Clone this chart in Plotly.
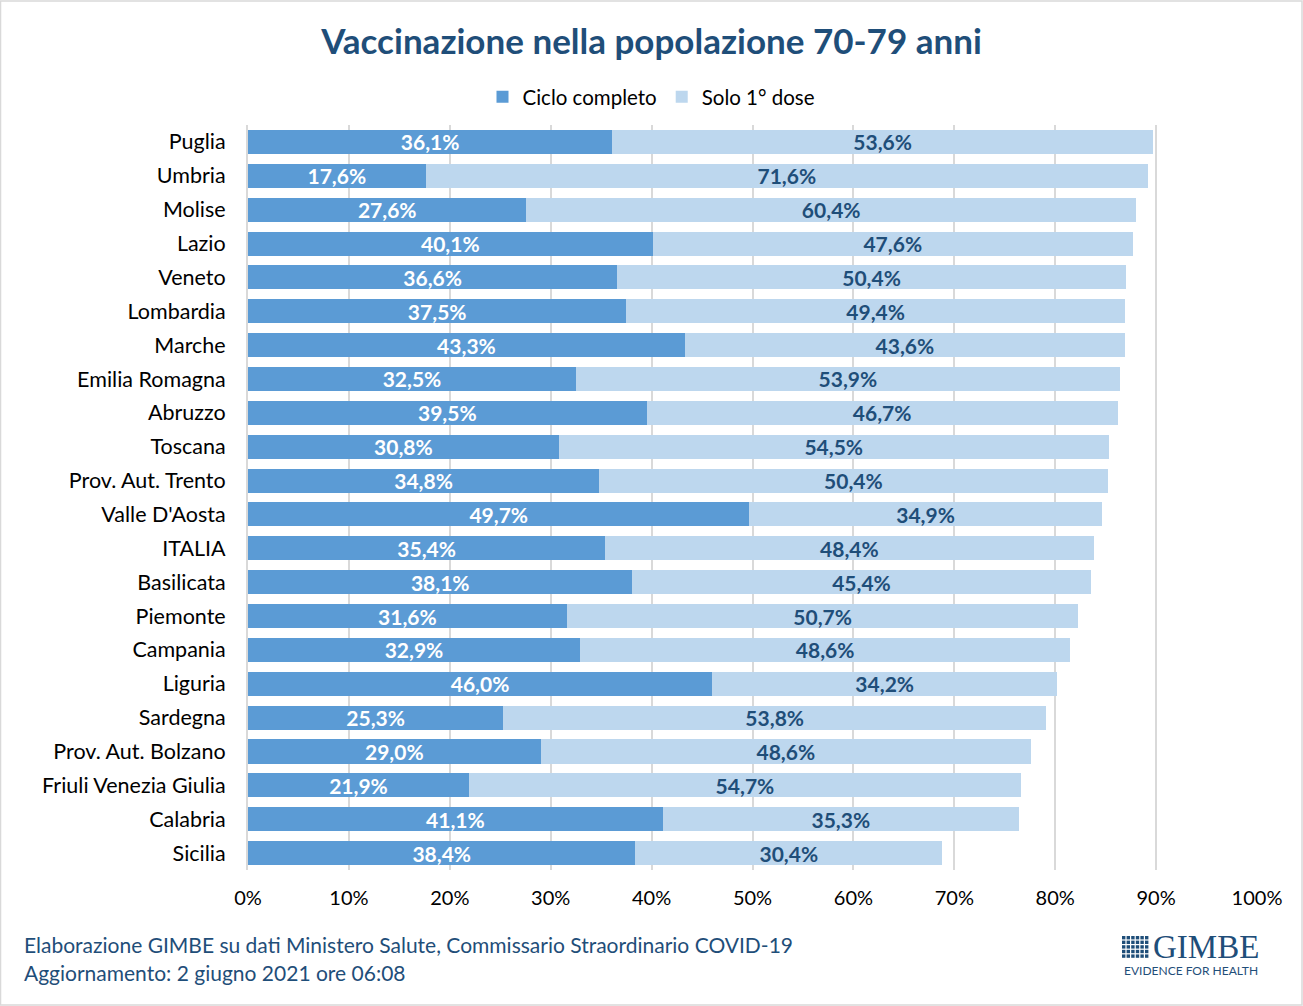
import plotly.graph_objects as go

regions = ["Puglia", "Umbria", "Molise", "Lazio", "Veneto", "Lombardia", "Marche",
           "Emilia Romagna", "Abruzzo", "Toscana", "Prov. Aut. Trento", "Valle D'Aosta",
           "ITALIA", "Basilicata", "Piemonte", "Campania", "Liguria", "Sardegna",
           "Prov. Aut. Bolzano", "Friuli Venezia Giulia", "Calabria", "Sicilia"]
ciclo_completo = [36.1, 17.6, 27.6, 40.1, 36.6, 37.5, 43.3, 32.5, 39.5, 30.8, 34.8, 49.7,
                  35.4, 38.1, 31.6, 32.9, 46.0, 25.3, 29.0, 21.9, 41.1, 38.4]
solo_prima_dose = [53.6, 71.6, 60.4, 47.6, 50.4, 49.4, 43.6, 53.9, 46.7, 54.5, 50.4, 34.9,
                   48.4, 45.4, 50.7, 48.6, 34.2, 53.8, 48.6, 54.7, 35.3, 30.4]
x_ticks = [0, 10, 20, 30, 40, 50, 60, 70, 80, 90, 100]
x_tick_labels = [f"{t}%" for t in x_ticks]

FONT = "Lato"
DARK = "#1F4E79"


def fmt(v):
    return f"{v:.1f}".replace(".", ",") + "%"


fig = go.Figure()
fig.add_trace(go.Bar(
    y=regions, x=ciclo_completo, orientation="h", name="Ciclo completo",
    marker=dict(color="#5B9BD5", line=dict(width=0)),
    text=[fmt(v) for v in ciclo_completo], textposition="inside", insidetextanchor="middle",
    constraintext="none", cliponaxis=False,
    textfont=dict(color="white", size=21, family=FONT, weight="bold"),
    hoverinfo="skip",
))
fig.add_trace(go.Bar(
    y=regions, x=solo_prima_dose, orientation="h", name="Solo 1° dose",
    marker=dict(color="#BDD7EE", line=dict(width=0)),
    text=[fmt(v) for v in solo_prima_dose], textposition="inside", insidetextanchor="middle",
    constraintext="none", cliponaxis=False,
    textfont=dict(color=DARK, size=21, family=FONT, weight="bold"),
    hoverinfo="skip",
))

fig.update_layout(
    width=1303, height=1006,
    barmode="stack", bargap=0.29,
    plot_bgcolor="white", paper_bgcolor="white",
    margin=dict(l=248, r=46, t=125, b=136, autoexpand=False),
    font=dict(family=FONT, color="#000000", size=19),
    title=dict(text="<b>Vaccinazione nella popolazione 70-79 anni</b>",
               x=0.5, xref="container", xanchor="center",
               y=1 - 42 / 1006, yref="container", yanchor="middle",
               font=dict(size=35, color=DARK, family=FONT)),
    legend=dict(orientation="h", x=0.5, xref="container", xanchor="center",
                y=1 - 97 / 1006, yref="container", yanchor="middle",
                font=dict(size=20.5, color="#000000", family=FONT),
                itemwidth=30, traceorder="normal", bgcolor="rgba(0,0,0,0)"),
    xaxis=dict(range=[0, 100], tickvals=x_ticks, ticktext=x_tick_labels,
               showgrid=True, gridcolor="#D9D9D9", gridwidth=2,
               zeroline=False, showline=False, ticks="",
               ticklabelstandoff=14, tickfont=dict(size=20, color="#000000"),
               fixedrange=True),
    yaxis=dict(autorange="reversed", showgrid=False, zeroline=False,
               showline=True, linecolor="#D9D9D9", linewidth=2, ticks="",
               ticklabelstandoff=16, tickfont=dict(size=21.5, color="#000000"),
               fixedrange=True),
)

# footer
fig.add_annotation(text="Elaborazione GIMBE su dati Ministero Salute, Commissario Straordinario COVID-19",
                   xref="paper", yref="paper", x=(22 - 248) / 1009, y=-(944 - 870) / 745,
                   xanchor="left", yanchor="middle", showarrow=False,
                   font=dict(size=21, color=DARK, family=FONT))
fig.add_annotation(text="Aggiornamento: 2 giugno 2021 ore 06:08",
                   xref="paper", yref="paper", x=(22 - 248) / 1009, y=-(972 - 870) / 745,
                   xanchor="left", yanchor="middle", showarrow=False,
                   font=dict(size=21, color=DARK, family=FONT))

# logo
fig.add_annotation(text="GIMBE", xref="paper", yref="paper",
                   x=(1261 - 248) / 1009, y=-(947 - 870) / 745,
                   xanchor="right", yanchor="middle", showarrow=False,
                   font=dict(size=33, color=DARK, family="Liberation Serif"))
fig.add_annotation(text="EVIDENCE FOR HEALTH", xref="paper", yref="paper",
                   x=(1260 - 248) / 1009, y=-(970 - 870) / 745,
                   xanchor="right", yanchor="middle", showarrow=False,
                   font=dict(size=12, color=DARK, family=FONT))
# grid icon of the logo
x0, y0, cell = 1122, 936, 4.6
for i in range(6):
    for j in range(5):
        fig.add_shape(type="rect", xref="paper", yref="paper",
                      x0=(x0 + i * cell - 248) / 1009, x1=(x0 + i * cell + cell - 1.2 - 248) / 1009,
                      y0=-(y0 + j * cell + cell - 1.2 - 870) / 745, y1=-(y0 + j * cell - 870) / 745,
                      line=dict(width=0), fillcolor=DARK)

# outer border
fig.add_shape(type="rect", xref="paper", yref="paper",
              x0=-248 / 1009 + 0.0005, x1=1 + 45 / 1009, y0=-135 / 745, y1=1 + 124 / 745,
              line=dict(color="#D9D9D9", width=1.5), fillcolor="rgba(0,0,0,0)")

fig.write_html("out.html")
